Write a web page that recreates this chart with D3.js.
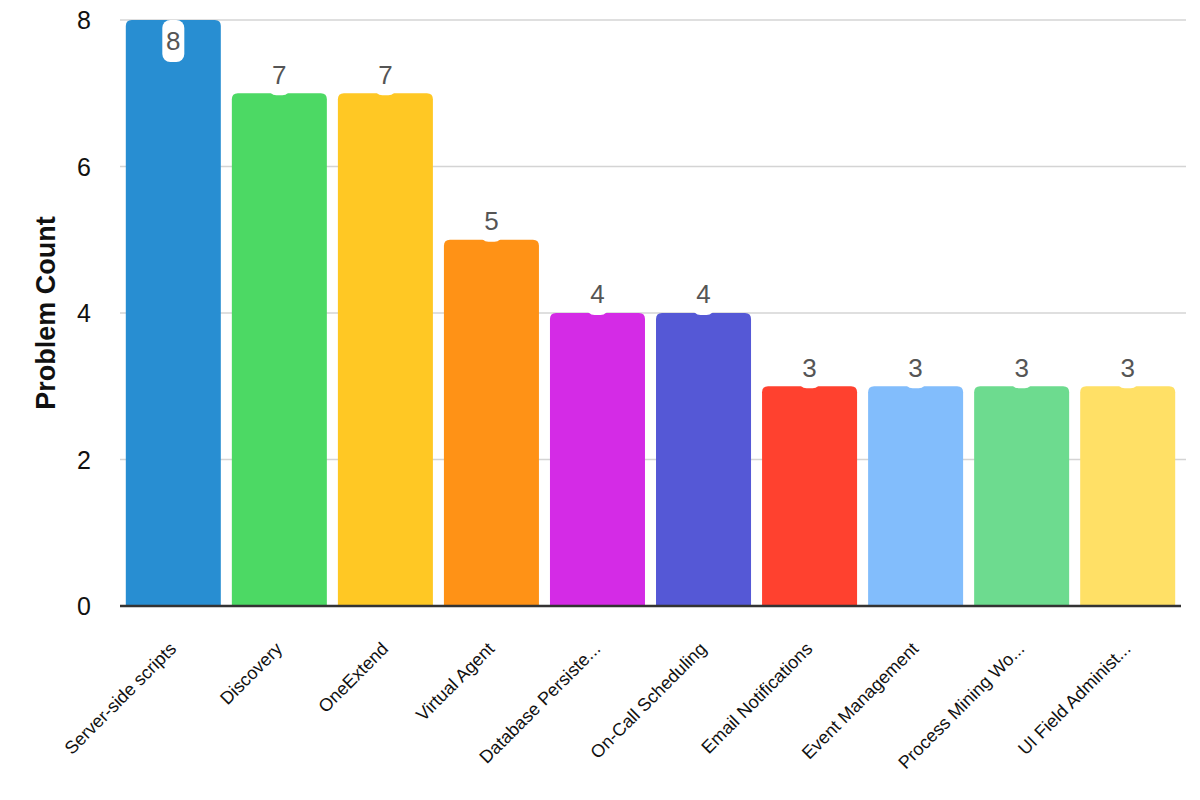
<!DOCTYPE html>
<meta charset="utf-8">
<style type="text/css">

body { margin: 0; background: #fff; }

.grid line {
    stroke: #d4d4d4;
    stroke-width: 1.5;
}

.tick-label {
    font-family: "Liberation Sans", Arial, sans-serif;
    font-size: 25px;
    fill: #111;
}

.cat-label {
    font-family: "Liberation Sans", Arial, sans-serif;
    font-size: 18px;
    fill: #111;
}

.val-label {
    font-family: "Liberation Sans", Arial, sans-serif;
    font-size: 26px;
    fill: #555;
}

</style>
<body>
</body>

<script src="https://d3js.org/d3.v7.min.js"></script>
<script>

var categories = ["Server-side scripts", "Discovery", "OneExtend", "Virtual Agent",
    "Database Persiste...", "On-Call Scheduling", "Email Notifications",
    "Event Management", "Process Mining Wo...", "UI Field Administ..."];

var counts = [8, 7, 7, 5, 4, 4, 3, 3, 3, 3];

var colors = ["#288ed2", "#4cd964", "#ffc824", "#ff9216", "#d42be6",
    "#5558d6", "#ff412f", "#82bdfc", "#6ddb8f", "#ffe066"];

var yTicks = [0, 2, 4, 6, 8];

var width = 1200
  , height = 800;

var xScale = d3.scaleBand()
    .domain(categories)
    .range([120.5, 1180.5])
    .paddingInner(0.104)
    .paddingOuter(0.05);

var yScale = d3.scaleLinear()
    .domain([0, 8])
    .range([606, 20]);

var svg = d3.select("body").append("svg")
    .attr("width", width)
    .attr("height", height);

// grid lines
svg.append("g")
    .attr("class", "grid")
  .selectAll("line")
    .data(yTicks.filter(function(d) { return d > 0; }))
  .enter().append("line")
    .attr("x1", 120)
    .attr("x2", 1186)
    .attr("y1", function(d) { return yScale(d); })
    .attr("y2", function(d) { return yScale(d); });

svg.append("g")
  .selectAll("text")
    .data(yTicks)
  .enter().append("text")
    .attr("class", "tick-label")
    .attr("x", 91)
    .attr("y", function(d) { return yScale(d); })
    .attr("dy", "0.36em")
    .attr("text-anchor", "end")
    .text(function(d) { return d; });

svg.append("text")
    .attr("transform", "translate(55," + ((yScale(0) + yScale(8)) / 2) + ") rotate(-90)")
    .attr("text-anchor", "middle")
    .style("font-family", "'Liberation Sans', Arial, sans-serif")
    .style("font-size", "27px")
    .style("font-weight", "bold")
    .style("fill", "#111")
    .text("Problem Count");

// bars with rounded top corners
var r = 6;
function barPath(d, i) {
    var x0 = xScale(categories[i]), x1 = x0 + xScale.bandwidth();
    var y0 = yScale(0), y1 = yScale(d);
    return "M" + x0 + "," + y0 +
        "V" + (y1 + r) +
        "Q" + x0 + "," + y1 + " " + (x0 + r) + "," + y1 +
        "H" + (x1 - r) +
        "Q" + x1 + "," + y1 + " " + x1 + "," + (y1 + r) +
        "V" + y0 + "Z";
}

svg.append("g")
  .selectAll("path")
    .data(counts)
  .enter().append("path")
    .attr("d", barPath)
    .attr("fill", function(d, i) { return colors[i]; });

// baseline
svg.append("line")
    .attr("x1", 120)
    .attr("x2", 1181)
    .attr("y1", yScale(0))
    .attr("y2", yScale(0))
    .attr("stroke", "#333")
    .attr("stroke-width", 2.5);

// value labels with white pill
var labels = svg.append("g")
  .selectAll("g")
    .data(counts)
  .enter().append("g")
    .attr("transform", function(d, i) {
        var cx = xScale(categories[i]) + xScale.bandwidth() / 2;
        var inside = yScale(d) < 50;
        var cy = inside ? yScale(d) + 21 : yScale(d) - 19;
        return "translate(" + cx + "," + cy + ")";
    });

labels.append("rect")
    .attr("x", -11)
    .attr("width", 22)
    .attr("y", function(d) { return yScale(d) < 50 ? -21 : -17; })
    .attr("height", function(d) { return yScale(d) < 50 ? 42 : 38; })
    .attr("rx", 8)
    .attr("fill", "#fff");

labels.append("text")
    .attr("class", "val-label")
    .attr("text-anchor", "middle")
    .attr("dy", "0.36em")
    .text(function(d) { return d; });

// category labels
svg.append("g")
  .selectAll("text")
    .data(categories)
  .enter().append("text")
    .attr("class", "cat-label")
    .attr("text-anchor", "end")
    .attr("transform", function(d) {
        var cx = xScale(d) + xScale.bandwidth() / 2;
        return "translate(" + (cx + 4) + ",650) rotate(-45)";
    })
    .text(function(d) { return d; });

</script>
